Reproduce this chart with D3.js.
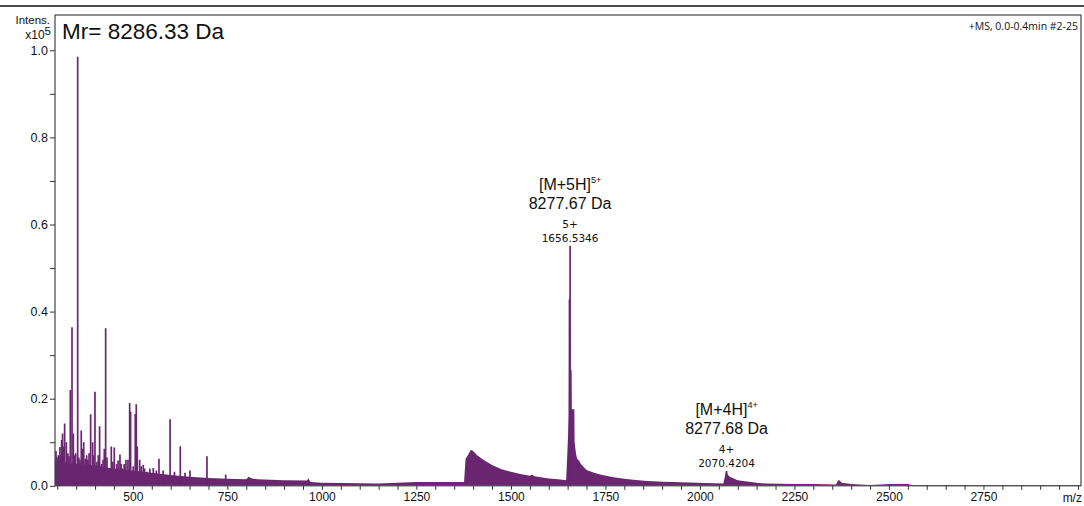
<!DOCTYPE html>
<html>
<head>
<meta charset="utf-8">
<script src="https://cdn.jsdelivr.net/npm/d3@7/dist/d3.min.js"></script>
<style>
  html, body { margin: 0; padding: 0; background: #fff; }
  svg { display: block; }
</style>
</head>
<body>
<svg id="chart" width="1084" height="506"></svg>
<script>
// Profile envelope of the spectrum: [m/z, intensity x10^5]
const profileMz = [294, 300, 320, 350, 400, 450, 500, 550, 600, 650, 700, 750, 800, 806, 815, 830, 900, 960, 964, 970, 1000, 1100, 1150, 1200, 1250, 1300, 1350, 1376,
  1380, 1386, 1394, 1400, 1410, 1425, 1450, 1475, 1500, 1525, 1550, 1556, 1562, 1575, 1600, 1625, 1646,
  1648, 1650, 1653, 1654.2, 1655.8, 1657.4, 1660.6, 1661.2, 1667.8, 1668.5, 1672, 1675, 1680, 1685, 1700, 1720, 1736, 1771, 1800, 1824, 1860, 1903, 1950, 1991,
  2062, 2068, 2070, 2071.5, 2075, 2080, 2100, 2124, 2150, 2177, 2250, 2300, 2360, 2365, 2369, 2375, 2400, 2450, 2480, 2500, 2550, 2560, 2700, 2800, 2950, 3008];
const profileIntens = [0.058, 0.052, 0.054, 0.05, 0.047, 0.039, 0.035, 0.03, 0.025, 0.021, 0.018, 0.016, 0.015, 0.021, 0.017, 0.015, 0.013, 0.012, 0.017, 0.009, 0.007, 0.006, 0.005, 0.007, 0.009, 0.009, 0.009, 0.009,
  0.062, 0.07, 0.083, 0.08, 0.071, 0.061, 0.048, 0.038, 0.032, 0.027, 0.023, 0.026, 0.022, 0.02, 0.017, 0.015, 0.013,
  0.05, 0.09, 0.16, 0.43, 0.43, 0.266, 0.266, 0.176, 0.176, 0.1, 0.075, 0.062, 0.058, 0.05, 0.036, 0.03, 0.026, 0.0195, 0.016, 0.014, 0.011, 0.0094, 0.008, 0.007,
  0.005, 0.03, 0.034, 0.03, 0.024, 0.02, 0.013, 0.01, 0.007, 0.005, 0.004, 0.004, 0.003, 0.012, 0.013, 0.007, 0.004, 0.002, 0.003, 0.004, 0.004, 0.002, 0.002, 0.002, 0.002, 0.002];

// Centroided lines: m/z and intensity x10^5
const peakMz = [296.6, 299.5, 302.7, 305, 307, 309.5, 311.6, 314, 316.5, 319.5, 324, 328, 331, 334.5, 339, 342.5, 345.5, 348.6, 354, 357, 360, 363.5, 366.5, 370, 374, 377.7, 381, 384, 388.3, 393.6,
  397, 399.7, 405, 408.5, 412, 417.3, 421, 424.4, 428, 431.5, 436.8, 442.9, 447, 450.8, 457, 461, 465.9, 469, 473, 477, 481.7, 487, 491.5, 494, 501, 506.3, 509, 511.6,
  518, 522, 527.5, 531, 536.5, 545, 554, 562, 569, 580, 598.4, 610, 625.4, 638, 651, 696, 745.5, 1654.9, 1656.5346, 2070.4204];
const peakIntens = [0.08, 0.065, 0.07, 0.062, 0.089, 0.07, 0.105, 0.12, 0.09, 0.143, 0.1, 0.075, 0.068, 0.22, 0.364, 0.12, 0.07, 0.075, 0.985, 0.065, 0.06, 0.127, 0.085, 0.1, 0.062, 0.07, 0.06, 0.075, 0.164, 0.1,
  0.07, 0.216, 0.055, 0.07, 0.137, 0.05, 0.06, 0.085, 0.362, 0.065, 0.04, 0.09, 0.055, 0.088, 0.05, 0.058, 0.072, 0.05, 0.04, 0.05, 0.06, 0.06, 0.19, 0.17, 0.045, 0.165, 0.187, 0.09,
  0.06, 0.045, 0.048, 0.04, 0.032, 0.04, 0.041, 0.035, 0.062, 0.035, 0.153, 0.032, 0.091, 0.03, 0.035, 0.068, 0.026, 0.428, 0.551, 0.034];

// Labelled ions
const ionMz = [1656.5346, 2070.4204];
const ionIntens = [0.551, 0.034];
const ionCharge = ["5+", "4+"];
const ionTitle = ["[M+5H]", "[M+4H]"];
const ionMass = ["8277.67 Da", "8277.68 Da"];

const yTicks = [0, 0.2, 0.4, 0.6, 0.8, 1.0];
const yMinorTicks = [0.1, 0.3, 0.5, 0.7, 0.9];
const xTickStep = 50;
const xLabelStep = 250;

const svg = d3.select("#chart");
const frameL = 55, frameR = 1081, frameT = 15, frameB = 485.8;
const purple = "#6a2671";
const fontArial = "'Liberation Sans', Arial, sans-serif";
const fontSmall = "'Open Sans', 'Noto Sans', sans-serif";
const fontLabel = "'DejaVu Sans', sans-serif";

const x = d3.scaleLinear().domain([294, 3008]).range([frameL, frameR]);
const y = d3.scaleLinear().domain([0, 1.081]).range([frameB, frameT]);

// header rule
svg.append("line").attr("x1", 0).attr("x2", 1084).attr("y1", 6).attr("y2", 6)
  .attr("stroke", "#111").attr("stroke-width", 1.6);

const plot = svg.append("g");
plot.append("clipPath").attr("id", "clip").append("rect")
  .attr("x", frameL).attr("y", frameT).attr("width", frameR - frameL).attr("height", frameB - frameT);

const profile = profileMz.map((m, i) => [m, profileIntens[i]]);
plot.append("path")
  .datum(profile)
  .attr("clip-path", "url(#clip)")
  .attr("fill", purple)
  .attr("d", d3.area().x(d => x(d[0])).y0(y(0)).y1(d => y(d[1])));

const peaks = peakMz.map((m, i) => [m, peakIntens[i]]);
plot.append("g").attr("clip-path", "url(#clip)")
  .selectAll("line").data(peaks).join("line")
  .attr("x1", d => x(d[0])).attr("x2", d => x(d[0]))
  .attr("y1", y(0)).attr("y2", d => y(d[1]))
  .attr("stroke", purple).attr("stroke-width", 1.7);

// frame
svg.append("rect").attr("x", frameL).attr("y", frameT).attr("width", frameR - frameL).attr("height", frameB - frameT)
  .attr("fill", "none").attr("stroke", "#444").attr("stroke-width", 1.2);

// y axis
const yAxis = d3.axisLeft(y).tickValues(yTicks.concat(yMinorTicks)).tickSize(5)
  .tickFormat(d => yTicks.includes(d) ? d3.format(".1f")(d) : "");
const gy = svg.append("g").attr("transform", `translate(${frameL},0)`).call(yAxis);
gy.select(".domain").remove();
gy.selectAll(".tick line").attr("stroke", "#333");
gy.selectAll(".tick text").attr("font-family", fontArial).attr("font-size", 12.5).attr("fill", "#111").attr("dx", "1");

// x axis
const xValues = d3.range(300, 3001, xTickStep);
const xAxis = d3.axisBottom(x).tickValues(xValues).tickSize(4).tickPadding(3)
  .tickFormat(d => (d % xLabelStep === 0 && d < 3000) ? d : "");
const gx = svg.append("g").attr("transform", `translate(0,${frameB})`).call(xAxis);
gx.select(".domain").remove();
gx.selectAll(".tick line").attr("stroke", "#333");
gx.selectAll(".tick text").attr("font-family", fontArial).attr("font-size", 12).attr("fill", "#111");
svg.append("text").attr("x", x(3000) + 4).attr("y", 501.5).attr("text-anchor", "end")
  .attr("font-family", fontArial).attr("font-size", 12).attr("fill", "#111").text("m/z");

// y axis title
svg.append("text").attr("x", 50).attr("y", 24).attr("text-anchor", "end")
  .attr("font-family", fontArial).attr("font-size", 11.5).attr("fill", "#111").text("Intens.");
const unit = svg.append("text").attr("x", 51).attr("y", 39).attr("text-anchor", "end")
  .attr("font-family", fontArial).attr("font-size", 12).attr("fill", "#111");
unit.append("tspan").text("x10");
unit.append("tspan").attr("dy", -4).attr("font-size", 11.5).text("5");

// title inside frame
svg.append("text").attr("x", 62).attr("y", 39)
  .attr("font-family", fontArial).attr("font-size", 22.5).attr("fill", "#111").text("Mr= 8286.33 Da");

svg.append("text").attr("x", 1078).attr("y", 30).attr("text-anchor", "end")
  .attr("font-family", fontSmall).attr("font-size", 10.5).attr("fill", "#111").text("+MS, 0.0-0.4min #2-25");

// ion annotations
ionMz.forEach((m, i) => {
  const cx = x(m);
  const yt = y(ionIntens[i]);
  svg.append("text").attr("x", cx).attr("y", yt - 4).attr("text-anchor", "middle")
    .attr("font-family", fontLabel).attr("font-size", 10.5).attr("fill", "#111").text(d3.format(".4f")(m));
  svg.append("text").attr("x", cx).attr("y", yt - 18).attr("text-anchor", "middle")
    .attr("font-family", fontLabel).attr("font-size", 10.5).attr("fill", "#111").text(ionCharge[i]);
  svg.append("text").attr("x", cx).attr("y", yt - 37).attr("text-anchor", "middle")
    .attr("font-family", fontArial).attr("font-size", 16).attr("fill", "#111").text(ionMass[i]);
  const t = svg.append("text").attr("x", cx).attr("y", yt - 56).attr("text-anchor", "middle")
    .attr("font-family", fontArial).attr("font-size", 16).attr("fill", "#111");
  t.append("tspan").text(ionTitle[i]);
  t.append("tspan").attr("dy", -7).attr("font-size", 9).text(ionCharge[i]);
});
</script>
</body>
</html>
